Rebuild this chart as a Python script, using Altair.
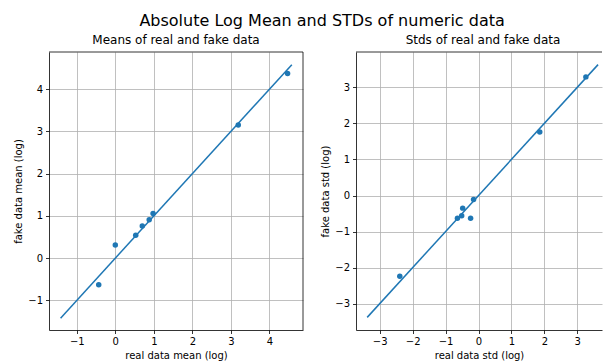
import altair as alt
import pandas as pd

# ---- data ----
mean_real = [-0.43, 0.00, 0.53, 0.70, 0.88, 0.98, 3.19, 4.47]
mean_fake = [-0.63, 0.31, 0.54, 0.76, 0.91, 1.06, 3.15, 4.37]
std_real = [-2.39, -0.64, -0.51, -0.48, -0.24, -0.15, 1.86, 3.26]
std_fake = [-2.24, -0.63, -0.56, -0.35, -0.63, -0.11, 1.76, 3.29]
mean_line = [-1.42, 4.58]
std_line = [-3.38, 3.63]

mean_ticks_x = [-1, 0, 1, 2, 3, 4]
mean_ticks_y = [-1, 0, 1, 2, 3, 4]
std_ticks_x = [-3, -2, -1, 0, 1, 2, 3]
std_ticks_y = [-3, -2, -1, 0, 1, 2, 3]

BLUE = "#1f77b4"
FONT = "DejaVu Sans"


def panel(real, fake, line, xdom, ydom, tx, ty, xtitle, ytitle, title, w, h,
          right_spine=True, title_dx=0):
    pts = pd.DataFrame({"real": real, "fake": fake})
    ln = pd.DataFrame({"real": line, "fake": line})
    xs = alt.Scale(domain=xdom, nice=False, zero=False)
    ys = alt.Scale(domain=ydom, nice=False, zero=False)
    xax = alt.Axis(values=tx, title=xtitle, format="d")
    yax = alt.Axis(values=ty, title=ytitle, format="d")
    dots = alt.Chart(pts).mark_circle(color=BLUE, size=30, opacity=1).encode(
        x=alt.X("real:Q", scale=xs, axis=xax),
        y=alt.Y("fake:Q", scale=ys, axis=yax),
    )
    diag = alt.Chart(ln).mark_line(color=BLUE, strokeWidth=1.5).encode(
        x="real:Q", y="fake:Q"
    )
    top = alt.Chart(pd.DataFrame({"a": [0]})).mark_rule(
        color="black", strokeWidth=0.8
    ).encode(x=alt.value(0), x2=alt.value(w), y=alt.value(0))
    layers = [dots, diag, top]
    if right_spine:
        rs = alt.Chart(pd.DataFrame({"a": [0]})).mark_rule(
            color="black", strokeWidth=0.8
        ).encode(x=alt.value(w), y=alt.value(0), y2=alt.value(h))
        layers.append(rs)
    return alt.layer(*layers).properties(
        width=w, height=h,
        title=alt.TitleParams(title, fontSize=12, font=FONT, fontWeight="normal",
                              color="black", offset=5, dx=title_dx),
        view=alt.ViewBackground(stroke=None),
    )


left = panel(mean_real, mean_fake, mean_line, [-1.72, 4.87], [-1.70, 4.88],
             mean_ticks_x, mean_ticks_y, "real data mean (log)",
             "fake data mean (log)", "Means of real and fake data", 254, 278)
right = panel(std_real, std_fake, std_line, [-3.72, 3.75], [-3.73, 3.98],
              std_ticks_x, std_ticks_y, "real data std (log)",
              "fake data std (log)", "Stds of real and fake data", 246, 278,
              right_spine=False, title_dx=4)

chart = alt.hconcat(left, right, spacing=16).properties(
    title=alt.TitleParams("Absolute Log Mean and STDs of numeric data",
                          fontSize=16, font=FONT, fontWeight="normal",
                          color="black", anchor="middle", offset=5, dx=14),
    padding={"left": 13, "top": 12, "right": 0, "bottom": 0},
    background="white",
).configure_axis(
    labelFont=FONT, titleFont=FONT, labelFontSize=10, titleFontSize=10,
    titleFontWeight="normal", labelColor="black", titleColor="black",
    tickSize=3.5, tickWidth=0.8, tickColor="black", labelPadding=3,
    domainColor="black", domainWidth=0.8, gridColor="#b0b0b0",
    gridWidth=0.8, gridOpacity=1, titlePadding=4,
).configure_view(stroke=None)

chart.save("out.html", embed_options={"renderer": "svg", "actions": False})
